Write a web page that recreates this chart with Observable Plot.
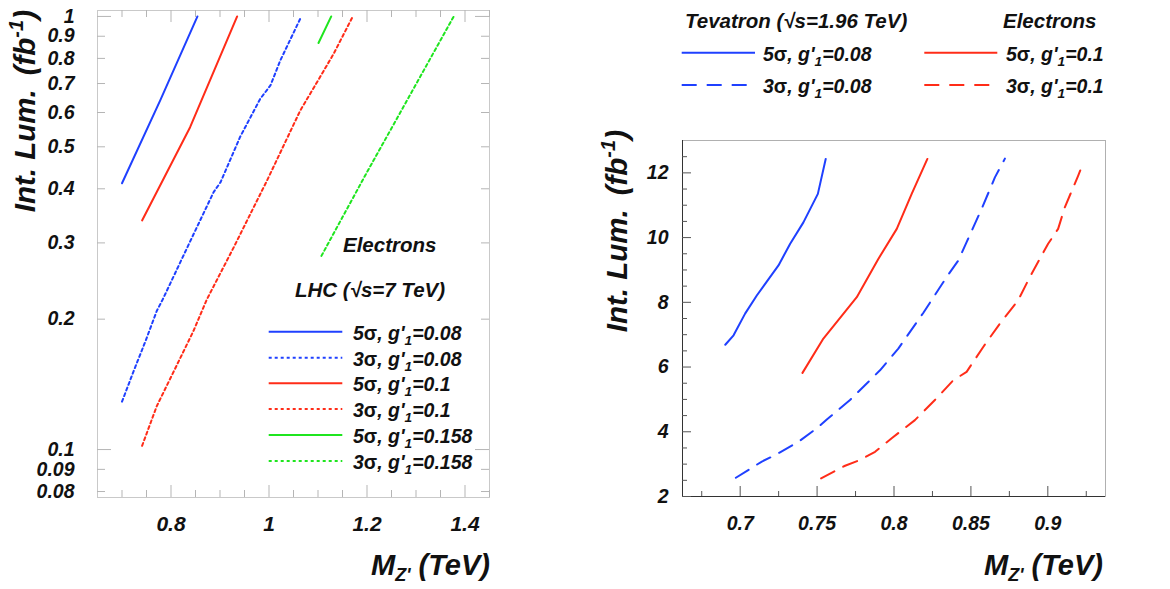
<!DOCTYPE html>
<html>
<head>
<meta charset="utf-8">
<script src="https://cdn.jsdelivr.net/npm/d3@7"></script>
<script src="https://cdn.jsdelivr.net/npm/@observablehq/plot@0.6"></script>
<style>
  html, body { margin: 0; padding: 0; background: #fff; }
  #wrap { position: relative; width: 1170px; height: 589px; overflow: hidden; background: #fff; }
  #left, #right { position: absolute; top: 0; }
  #left { left: 0; } #right { left: 585px; }
  #overlay { position: absolute; left: 0; top: 0; pointer-events: none; }
  #overlay text { font-family: "Liberation Sans", Arial, sans-serif; font-weight: bold; font-style: italic; fill: #111; white-space: pre; }
</style>
</head>
<body>
<div id="wrap">
  <div id="left"></div>
  <div id="right"></div>
  <svg id="overlay" width="1170" height="589"></svg>
</div>
<script>
// ---------------- DATA ----------------
// Left panel: LHC (sqrt(s)=7 TeV), electrons. x = M_Z' (TeV), y = Int. Lum. (fb^-1), log scale
const lhc5s008X = [0.700, 0.778, 0.854];
const lhc5s008Y = [0.412, 0.640, 1.000];
const lhc3s008X = [0.700, 0.724, 0.748, 0.771, 0.783, 0.843, 0.887, 0.901, 0.941, 0.982, 1.003, 1.023, 1.066];
const lhc3s008Y = [0.129, 0.152, 0.178, 0.209, 0.222, 0.309, 0.393, 0.414, 0.527, 0.645, 0.693, 0.791, 1.000];
const lhc5s01X = [0.741, 0.839, 0.935];
const lhc5s01Y = [0.338, 0.555, 1.000];
const lhc3s01X = [0.741, 0.771, 0.805, 0.846, 0.873, 0.928, 0.996, 1.064, 1.098, 1.132, 1.171];
const lhc3s01Y = [0.102, 0.126, 0.151, 0.188, 0.222, 0.293, 0.418, 0.607, 0.705, 0.820, 1.000];
const lhc5s0158X = [1.101, 1.127];
const lhc5s0158Y = [0.868, 1.000];
const lhc3s0158X = [1.107, 1.200, 1.295, 1.377];
const lhc3s0158Y = [0.280, 0.437, 0.681, 1.000];

// Right panel: Tevatron (sqrt(s)=1.96 TeV), electrons. linear y
const tev5s008X = [0.6903, 0.6957, 0.7032, 0.7108, 0.7249, 0.7325, 0.7411, 0.7505, 0.7556];
const tev5s008Y = [6.69, 6.98, 7.65, 8.21, 9.14, 9.81, 10.47, 11.35, 12.43];
const tev5s01X = [0.7405, 0.7541, 0.7758, 0.7898, 0.8018, 0.8115, 0.8217];
const tev5s01Y = [5.82, 6.88, 8.16, 9.34, 10.27, 11.35, 12.43];
const tev3s008X = [0.6972, 0.7141, 0.7227, 0.7379, 0.7509, 0.7563, 0.7714, 0.7909, 0.8028, 0.8190, 0.8342, 0.8418, 0.8472, 0.8569, 0.8656, 0.8721];
const tev3s008Y = [2.58, 3.08, 3.28, 3.69, 4.15, 4.38, 4.98, 5.90, 6.57, 7.67, 8.78, 9.29, 9.86, 10.88, 11.86, 12.44];
const tev3s01X = [0.7526, 0.7682, 0.7779, 0.7877, 0.7985, 0.8136, 0.8266, 0.8385, 0.8472, 0.8580, 0.8688, 0.8807, 0.8883, 0.9002, 0.9067, 0.9110, 0.9197, 0.9234];
const tev3s01Y = [2.56, 2.95, 3.13, 3.38, 3.80, 4.36, 4.98, 5.59, 5.85, 6.62, 7.34, 8.06, 8.78, 9.81, 10.27, 10.93, 11.91, 12.35];

// Tick labels
const leftXTickLabels = [0.8, 1, 1.2, 1.4];
const leftXMinorTicks = [0.7, 0.75, 0.85, 0.9, 0.95, 1.05, 1.1, 1.15, 1.25, 1.3, 1.35, 1.45];
const leftYTickLabels = [0.08, 0.09, 0.1, 0.2, 0.3, 0.4, 0.5, 0.6, 0.7, 0.8, 0.9, 1];
const leftYDecades = [0.1, 1];
const rightXTickLabels = [0.7, 0.75, 0.8, 0.85, 0.9];
const rightXMinorTicks = [0.675, 0.725, 0.775, 0.825, 0.875, 0.925];
const rightYTickLabels = [2, 4, 6, 8, 10, 12];
const rightYMinorTicks = [2.5, 3, 3.5, 4.5, 5, 5.5, 6.5, 7, 7.5, 8.5, 9, 9.5, 10.5, 11, 11.5, 12.5];

// Series styles (legend labels)
const BLUE = "#1f40ff", RED = "#ff2c18", GREEN = "#1fe51f";
const lhcSeries = [
  {label: "0.08", sig: "5", x: lhc5s008X, y: lhc5s008Y, color: BLUE, dash: null},
  {label: "0.08", sig: "3", x: lhc3s008X, y: lhc3s008Y, color: BLUE, dash: "3,3"},
  {label: "0.1", sig: "5", x: lhc5s01X, y: lhc5s01Y, color: RED, dash: null},
  {label: "0.1", sig: "3", x: lhc3s01X, y: lhc3s01Y, color: RED, dash: "3,3"},
  {label: "0.158", sig: "5", x: lhc5s0158X, y: lhc5s0158Y, color: GREEN, dash: null},
  {label: "0.158", sig: "3", x: lhc3s0158X, y: lhc3s0158Y, color: GREEN, dash: "3,3"}
];
const tevSeries = [
  {label: "0.08", sig: "5", x: tev5s008X, y: tev5s008Y, color: BLUE, dash: null},
  {label: "0.1", sig: "5", x: tev5s01X, y: tev5s01Y, color: RED, dash: null},
  {label: "0.08", sig: "3", x: tev3s008X, y: tev3s008Y, color: BLUE, dash: "15,10"},
  {label: "0.1", sig: "3", x: tev3s01X, y: tev3s01Y, color: RED, dash: "15,10"}
];
const toRows = s => s.x.map((x, i) => ({x, y: s.y[i]}));

const FONT = "'Liberation Sans', Arial, Helvetica, sans-serif";
const fmt = d => String(d);

// ---------------- LEFT PLOT ----------------
const LW = 585, LML = 97, LMR = 96, LMT = 10, LMB = 92;
const lpw = LW - LML - LMR, lph = 589 - LMT - LMB;
const leftMarks = [
  Plot.frame({stroke: "#c9c9c9"}),
  Plot.ruleY(leftYTickLabels.filter(d => !leftYDecades.includes(d)), {y: d => d, insetRight: lpw - 8, stroke: "#b5b5b5"}),
  Plot.ruleY(leftYTickLabels.filter(d => !leftYDecades.includes(d)), {y: d => d, insetLeft: lpw - 8, stroke: "#b5b5b5"}),
  Plot.ruleY(leftYDecades, {y: d => d, insetRight: lpw - 14, stroke: "#b5b5b5"}),
  Plot.ruleY(leftYDecades, {y: d => d, insetLeft: lpw - 14, stroke: "#b5b5b5"}),
  Plot.ruleX(leftXTickLabels, {x: d => d, insetTop: lph - 12, stroke: "#b5b5b5"}),
  Plot.ruleX(leftXMinorTicks, {x: d => d, insetTop: lph - 7, stroke: "#b5b5b5"}),
  Plot.ruleX(leftXTickLabels, {x: d => d, insetBottom: lph - 12, stroke: "#b5b5b5"}),
  Plot.ruleX(leftXMinorTicks, {x: d => d, insetBottom: lph - 7, stroke: "#b5b5b5"}),
  Plot.axisX(leftXTickLabels, {tickSize: 0, tickPadding: 19, tickFormat: fmt, label: null, fontSize: 21}),
  Plot.axisY(leftYTickLabels, {tickSize: 0, tickPadding: 23, tickFormat: fmt, label: null, fontSize: 19.5}),
  ...lhcSeries.map(s => Plot.line(toRows(s), {x: "x", y: "y", stroke: s.color, strokeWidth: 2, strokeDasharray: s.dash}))
];
const leftPlot = Plot.plot({
  width: LW, height: 589,
  marginLeft: LML, marginRight: LMR, marginTop: LMT, marginBottom: LMB,
  x: {domain: [0.65, 1.45]},
  y: {type: "log", domain: [0.0775, 1.032]},
  style: {fontFamily: FONT, fontWeight: "bold", fontStyle: "italic", fontSize: "21px", color: "#111", background: "transparent"},
  marks: leftMarks
});
document.getElementById("left").appendChild(leftPlot);

// ---------------- RIGHT PLOT ----------------
const RW = 585, RML = 97, RMR = 65, RMT = 140, RMB = 93;
const rpw = RW - RML - RMR, rph = 589 - RMT - RMB;
const rightMarks = [
  Plot.frame({stroke: "#b0b0b0"}),
  Plot.ruleX([0.6625], {x: d => d, stroke: "#333"}),
  Plot.ruleY([2], {y: d => d, stroke: "#333"}),
  Plot.ruleY(rightYTickLabels, {y: d => d, insetRight: rpw - 9, stroke: "#555"}),
  Plot.ruleY(rightYMinorTicks, {y: d => d, insetRight: rpw - 5, stroke: "#555"}),
  Plot.ruleX(rightXTickLabels, {x: d => d, insetTop: rph - 10, stroke: "#555"}),
  Plot.ruleX(rightXMinorTicks, {x: d => d, insetTop: rph - 5, stroke: "#555"}),
  Plot.axisX(rightXTickLabels, {tickSize: 0, tickPadding: 20, tickFormat: fmt, label: null}),
  Plot.axisY(rightYTickLabels, {tickSize: 0, tickPadding: 14, tickFormat: fmt, label: null}),
  ...tevSeries.map(s => Plot.line(toRows(s), {x: "x", y: "y", stroke: s.color, strokeWidth: 2, strokeDasharray: s.dash}))
];
const rightPlot = Plot.plot({
  width: RW, height: 589,
  marginLeft: RML, marginRight: RMR, marginTop: RMT, marginBottom: RMB,
  x: {domain: [0.6625, 0.9375]},
  y: {domain: [2, 13]},
  style: {fontFamily: FONT, fontWeight: "bold", fontStyle: "italic", fontSize: "19.5px", color: "#111", background: "transparent"},
  marks: rightMarks
});
document.getElementById("right").appendChild(rightPlot);

// ---------------- TEXT OVERLAY (titles, legends) ----------------
const ov = d3.select("#overlay");
function yTitle(x, yEnd) {
  const t = ov.append("text").attr("transform", `translate(${x},${yEnd}) rotate(-90)`)
    .attr("text-anchor", "end").attr("font-size", 29.5);
  t.append("tspan").text("Int. Lum.");
  t.append("tspan").attr("dx", 14).text("(fb");
  t.append("tspan").attr("font-size", 20).attr("dy", -12).text("-1");
  t.append("tspan").attr("dy", 12).text(")");
}
function xTitle(xEnd, y) {
  const t = ov.append("text").attr("x", xEnd).attr("y", y).attr("text-anchor", "end").attr("font-size", 29);
  t.append("tspan").text("M");
  t.append("tspan").attr("font-size", 18).attr("dy", 6).text("Z'");
  t.append("tspan").attr("dy", -6).text(" (TeV)");
}
function entry(x0, x1, y, s, tx, fs) {
  ov.append("line").attr("x1", x0).attr("x2", x1).attr("y1", y).attr("y2", y)
    .attr("stroke", s.color).attr("stroke-width", 2).attr("stroke-dasharray", s.dash);
  const t = ov.append("text").attr("x", tx).attr("y", y + 8).attr("font-size", fs);
  t.append("tspan").text(s.sig);
  t.append("tspan").attr("font-style", "normal").text("σ");
  t.append("tspan").text(", g'");
  t.append("tspan").attr("font-size", fs * 0.7).attr("dy", 5).text("1");
  t.append("tspan").attr("dy", -5).text("=" + s.label);
}
yTitle(35, 10);
xTitle(490, 575);
yTitle(627, 130);
xTitle(1103, 575);

// left legend
ov.append("text").attr("x", 343).attr("y", 252).attr("font-size", 20.5).text("Electrons");
ov.append("text").attr("x", 295).attr("y", 297).attr("font-size", 20.5).text("LHC (√s=7 TeV)");
const leftRows = [331.7, 357.7, 383.3, 409, 435, 461];
lhcSeries.forEach((s, i) => entry(268.7, 342.3, leftRows[i], s, 353, 19.5));

// right legend
ov.append("text").attr("x", 685).attr("y", 28).attr("font-size", 20.5).text("Tevatron (√s=1.96 TeV)");
ov.append("text").attr("x", 1003).attr("y", 28).attr("font-size", 20.5).text("Electrons");
entry(681.7, 755, 52.7, tevSeries[0], 763, 19.5);
entry(681.7, 755, 85, tevSeries[2], 763, 19.5);
entry(924.3, 997.3, 52.7, tevSeries[1], 1006, 19.5);
entry(924.3, 997.3, 85, tevSeries[3], 1006, 19.5);
</script>
</body>
</html>
